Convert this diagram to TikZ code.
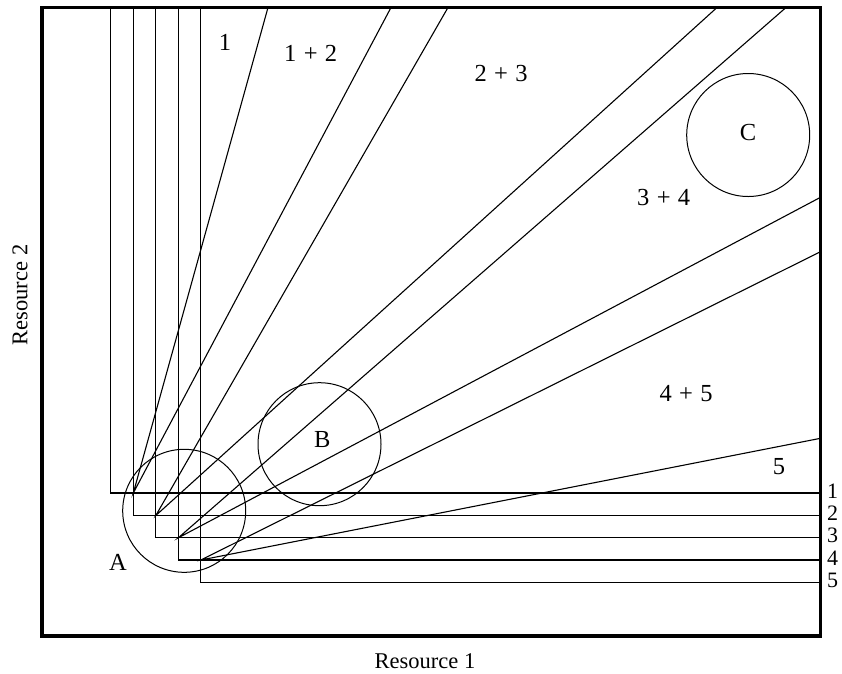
\documentclass[tikz,border=0pt]{standalone}
\usepackage{fontspec}
\setmainfont{Liberation Serif}
\begin{document}
\begin{tikzpicture}[x=1pt,y=-1pt,
  frame/.style={line width=3.5pt},
  iso/.style={line width=1.1pt},
  ray/.style={line width=1.1pt},
  circ/.style={circle, draw, line width=1pt, minimum size=123pt, inner sep=0pt},
  lab/.style={font=\fontsize{24.5}{24.5}\selectfont, inner sep=0pt},
  rlab/.style={font=\fontsize{22}{22}\selectfont, inner sep=0pt, anchor=west},
  axis/.style={font=\fontsize{22.5}{22.5}\selectfont, inner sep=0pt}]
\newcommand{\pl}{\hspace{0.3em}+\hspace{0.3em}}
\useasboundingbox (0,0) rectangle (842,673);
% frame
\draw[frame] (42,7.5) rectangle (820.5,636);
% corners of isoquants
\coordinate (c1) at (110.7,493);
\coordinate (c2) at (133.3,515.5);
\coordinate (c3) at (155.8,537.8);
\coordinate (c4) at (178.3,560);
\coordinate (c5) at (200.8,582.5);
\foreach \i in {1,...,5}{
  \coordinate (t\i) at (c\i |- 0,7.5);
  \coordinate (r\i) at (820.5,0 |- c\i);
  \draw[iso] (t\i) -- (c\i) -- (r\i);
}
% ray origins
\coordinate (p12) at (c2 |- c1);
\coordinate (p23) at (c3 |- c2);
\coordinate (p34) at (c4 |- c3);
\coordinate (p45) at (c5 |- c4);
% ray ends
\coordinate (e1) at (268,7.5);
\coordinate (e2) at (391,7.5);
\coordinate (e3) at (448,7.5);
\coordinate (e4) at (717,7.5);
\coordinate (e5) at (786,7.5);
\coordinate (e6) at (820.5,197.3);
\coordinate (e7) at (820.5,251.7);
\coordinate (e8) at (820.5,438.3);
\draw[ray] (e1) -- (p12) -- (e2);
\draw[ray] (e3) -- (p23) -- (e4);
\draw[ray] (e5) -- (p34) -- (e6);
\draw[ray] (e7) -- (p45) -- (e8);
% circles
\node[circ] (cA) at (184.2,510.8) {};
\node[circ] (cB) at (319.5,444.2) {};
\node[circ] (cC) at (748.2,135) {};
\node[lab] (lA) at (118,562) {A};
\node[lab] (lB) at (322.3,439.3) {B};
\node[lab] (lC) at (748,133) {C};
% region labels
\node[lab] (g1) at (225,42) {1};
\node[lab] (g12) at (310.7,53.3) {1\pl2};
\node[lab] (g23) at (501,74) {2\pl3};
\node[lab] (g34) at (663.7,198) {3\pl4};
\node[lab] (g45) at (686,394) {4\pl5};
\node[lab] (g5) at (779,467) {5};
% isoquant labels
\node[rlab] (n1) at (827,491) {1};
\node[rlab] (n2) at (827,513.3) {2};
\node[rlab] (n3) at (827,535.6) {3};
\node[rlab] (n4) at (827,557.9) {4};
\node[rlab] (n5) at (827,580.2) {5};
% axes
\node[axis] (ax1) at (425,661) {Resource 1};
\node[axis, rotate=90] (ax2) at (20,295) {Resource 2};
\end{tikzpicture}
\end{document}
